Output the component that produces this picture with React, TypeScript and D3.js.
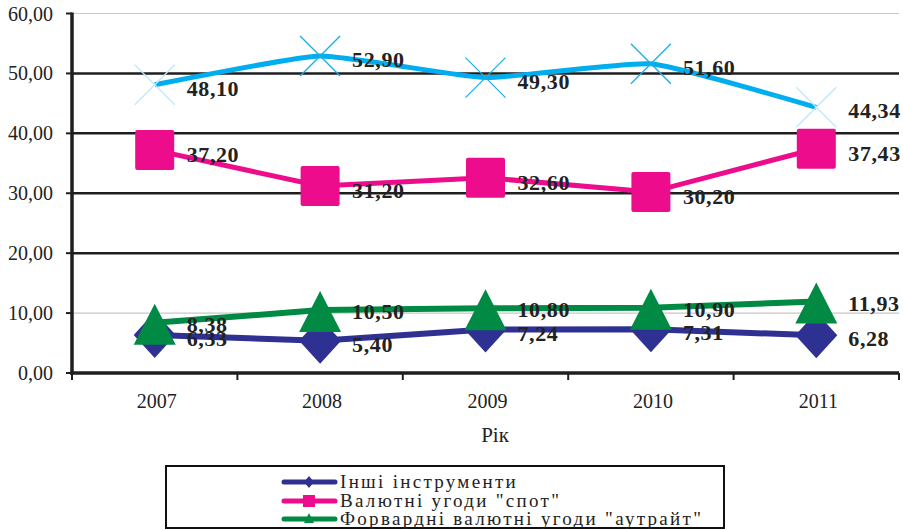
import React from "react";
import * as d3 from "d3";

const years = ["2007", "2008", "2009", "2010", "2011"];
const totalValues = [48.1, 52.9, 49.3, 51.6, 44.34];
const spotValues = [37.2, 31.2, 32.6, 30.2, 37.43];
const forwardValues = [8.38, 10.5, 10.8, 10.9, 11.93];
const otherValues = [6.33, 5.4, 7.24, 7.31, 6.28];
const yTicks = [0, 10, 20, 30, 40, 50, 60];
const legendNames = ["Інші інструменти", "Валютні угоди \"спот\"", "Форвардні валютні угоди \"аутрайт\""];
const axisTitle = "Рік";

const W = 903;
const H = 530;
const left = 72;
const right = 899;
const top = 13.5;
const bottom = 373;

const CYAN = "#00aeef";
const PINK = "#ec0c8c";
const GREEN = "#008a44";
const NAVY = "#2e3192";

const fmt = (v: number) => v.toFixed(2).replace(".", ",");

export default function App() {
  const x = d3.scaleBand<string>().domain(years).range([left, right]);
  const y = d3.scaleLinear().domain([0, 60]).range([bottom, top]);
  const cx = (i: number) => (x(years[i]) as number) + x.bandwidth() / 2;

  const smooth = d3
    .line<number>()
    .x((_, i) => cx(i))
    .y((d) => y(d))
    .curve(d3.curveCardinal.tension(0.55));
  const straight = d3
    .line<number>()
    .x((_, i) => cx(i))
    .y((d) => y(d));

  const labelStyle: React.CSSProperties = {
    fontFamily: "'Liberation Serif', 'Times New Roman', serif",
    fontWeight: 700,
    fontSize: 22,
    letterSpacing: 0.6,
    fill: "#222",
  };

  const diamond = (px: number, py: number, w = 21, h = 23) =>
    `M${px},${py - h}L${px + w},${py}L${px},${py + h}L${px - w},${py}Z`;
  const triangle = (px: number, py: number, w = 21, up = 19, down = 22) =>
    `M${px},${py - up}L${px + w},${py + down}L${px - w},${py + down}Z`;

  const labels = (vals: number[], dy: number) =>
    vals.map((v, i) => (
      <text key={i} x={cx(i) + 32} y={y(v) + dy} style={labelStyle}>
        {fmt(v)}
      </text>
    ));

  const legendRows = [
    { name: legendNames[0], color: NAVY, kind: "diamond" },
    { name: legendNames[1], color: PINK, kind: "square" },
    { name: legendNames[2], color: GREEN, kind: "triangle" },
  ];
  const legendY = [482, 501, 519];

  return (
    <div style={{ position: "absolute", left: 0, top: 0 }}>
      <svg width={W} height={H} style={{ display: "block", background: "#fff" }}>
        {/* gridlines */}
        {yTicks.filter((t) => t > 0).map((t) => {
          const major = t >= 20 && t <= 50;
          return (
            <line
              key={t}
              x1={left}
              x2={right}
              y1={y(t)}
              y2={y(t)}
              stroke={major ? "#1e1e1e" : "#c8c8c8"}
              strokeWidth={major ? 2.5 : 1.2}
            />
          );
        })}

        {/* y axis */}
        <line x1={left} x2={left} y1={top - 1} y2={bottom + 1.5} stroke="#1e1e1e" strokeWidth={3.5} />
        {yTicks.map((t) => (
          <g key={t}>
            <line x1={left - 6} x2={left} y1={y(t)} y2={y(t)} stroke="#1e1e1e" strokeWidth={2} />
            <text
              x={53}
              y={y(t) + 7}
              textAnchor="end"
              style={{ fontFamily: "'Liberation Serif', serif", fontSize: 20, fill: "#222" }}
            >
              {fmt(t)}
            </text>
          </g>
        ))}

        {/* x axis */}
        <line x1={left - 2} x2={right} y1={bottom} y2={bottom} stroke="#1e1e1e" strokeWidth={3.5} />
        {d3.range(years.length + 1).map((i) => {
          const xx = left + i * x.bandwidth();
          return <line key={i} x1={xx} x2={xx} y1={bottom} y2={bottom + 7} stroke="#1e1e1e" strokeWidth={2} />;
        })}
        {years.map((yr, i) => (
          <text
            key={yr}
            x={cx(i) + 2}
            y={408}
            textAnchor="middle"
            style={{ fontFamily: "'Liberation Serif', serif", fontSize: 20, fill: "#222" }}
          >
            {yr}
          </text>
        ))}
        <text
          x={495}
          y={442}
          textAnchor="middle"
          style={{ fontFamily: "'Liberation Serif', serif", fontSize: 21, fill: "#222" }}
        >
          {axisTitle}
        </text>

        {/* total series */}
        <path d={smooth(totalValues) || ""} fill="none" stroke={CYAN} strokeWidth={5} />
        {totalValues.map((v, i) => {
          const pale = i === 0 || i === totalValues.length - 1;
          const px = cx(i);
          const py = y(v);
          const r = 20;
          return (
            <g key={i} stroke={pale ? "#bfe9fa" : "#1aafe6"} strokeWidth={1.3}>
              <line x1={px - r} y1={py - r} x2={px + r} y2={py + r} />
              <line x1={px - r} y1={py + r} x2={px + r} y2={py - r} />
            </g>
          );
        })}

        {/* spot deals */}
        <path d={straight(spotValues) || ""} fill="none" stroke={PINK} strokeWidth={5} />
        {spotValues.map((v, i) => (
          <rect key={i} x={cx(i) - 19.5} y={y(v) - 20} width={39} height={40} rx={2} fill={PINK} />
        ))}

        {/* other instruments */}
        <path d={straight(otherValues) || ""} fill="none" stroke={NAVY} strokeWidth={6} />
        {otherValues.map((v, i) => (
          <path key={i} d={diamond(cx(i), y(v))} fill={NAVY} />
        ))}

        {/* forward deals */}
        <path d={straight(forwardValues) || ""} fill="none" stroke={GREEN} strokeWidth={6} />
        {forwardValues.map((v, i) => (
          <path key={i} d={triangle(cx(i), y(v))} fill={GREEN} />
        ))}

        {/* data labels */}
        {labels(totalValues, 11)}
        {labels(spotValues, 12)}
        {labels(forwardValues, 9)}
        {labels(otherValues, 11)}

        {/* legend */}
        <rect x={166} y={466} width={558} height={62} fill="#fff" stroke="#111" strokeWidth={2} />
        {legendRows.map((row, i) => {
          const ly = legendY[i];
          const mx = 309;
          return (
            <g key={row.name}>
              <line x1={284} x2={335} y1={ly} y2={ly} stroke={row.color} strokeWidth={5} strokeLinecap="round" />
              {row.kind === "diamond" && <path d={diamond(mx, ly, 5, 6)} fill={row.color} />}
              {row.kind === "square" && <rect x={mx - 6} y={ly - 6} width={12} height={12} fill={row.color} />}
              {row.kind === "triangle" && <path d={triangle(mx, ly, 5, 6, 4)} fill={row.color} />}
              <text
                x={340}
                y={ly + 6}
                style={{
                  fontFamily: "'Liberation Serif', serif",
                  fontSize: 19,
                  letterSpacing: 2.3,
                  fill: "#222",
                }}
              >
                {row.name}
              </text>
            </g>
          );
        })}
      </svg>
    </div>
  );
}
